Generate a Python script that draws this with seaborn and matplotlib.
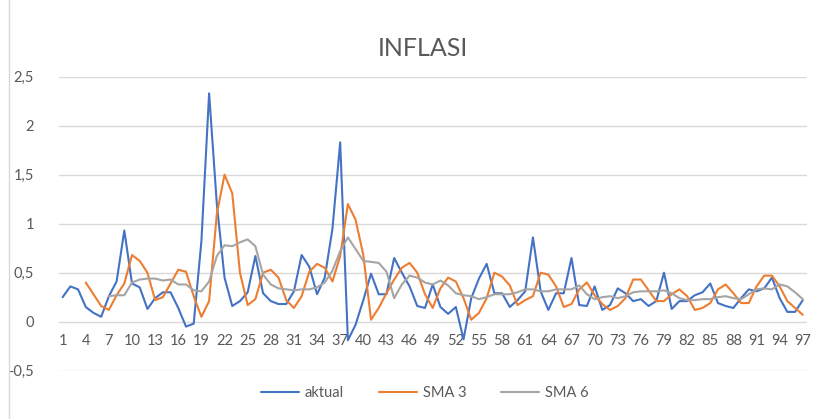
import numpy as np
import pandas as pd
import matplotlib
matplotlib.use("Agg")
import matplotlib.pyplot as plt
import seaborn as sns
from matplotlib.lines import Line2D

periods = list(range(1, 98))

aktual = [0.25, 0.36, 0.33, 0.15, 0.09, 0.05, 0.26, 0.41, 0.93, 0.39,
          0.35, 0.13, 0.24, 0.30, 0.30, 0.14, -0.05, -0.02, 0.82, 2.33,
          1.20, 0.45, 0.16, 0.21, 0.30, 0.67, 0.29, 0.21, 0.18, 0.18,
          0.31, 0.68, 0.56, 0.28, 0.45, 0.95, 1.83, -0.19, -0.03, 0.22,
          0.49, 0.28, 0.28, 0.65, 0.50, 0.36, 0.16, 0.14, 0.38, 0.15,
          0.08, 0.15, -0.18, 0.24, 0.44, 0.59, 0.29, 0.29, 0.15, 0.22,
          0.31, 0.86, 0.31, 0.12, 0.29, 0.29, 0.65, 0.17, 0.16, 0.36,
          0.12, 0.17, 0.34, 0.29, 0.21, 0.23, 0.16, 0.21, 0.50, 0.13,
          0.21, 0.21, 0.27, 0.30, 0.39, 0.19, 0.16, 0.14, 0.24, 0.33,
          0.31, 0.34, 0.45, 0.24, 0.10, 0.10, 0.22]

sma3 = [None, None, None, 0.40, 0.28, 0.16, 0.12, 0.27, 0.39, 0.68,
        0.62, 0.50, 0.22, 0.25, 0.39, 0.53, 0.51, 0.26, 0.05, 0.21,
        1.10, 1.50, 1.31, 0.50, 0.17, 0.23, 0.50, 0.53, 0.45, 0.22,
        0.14, 0.26, 0.51, 0.59, 0.55, 0.41, 0.67, 1.20, 1.04, 0.68,
        0.02, 0.14, 0.29, 0.43, 0.55, 0.60, 0.50, 0.28, 0.14, 0.34,
        0.45, 0.41, 0.24, 0.02, 0.09, 0.24, 0.50, 0.46, 0.37, 0.17,
        0.22, 0.26, 0.50, 0.48, 0.36, 0.15, 0.18, 0.33, 0.40, 0.27,
        0.18, 0.12, 0.16, 0.24, 0.43, 0.43, 0.32, 0.21, 0.21, 0.28,
        0.33, 0.26, 0.12, 0.14, 0.19, 0.33, 0.38, 0.29, 0.19, 0.19,
        0.36, 0.47, 0.47, 0.36, 0.21, 0.14, 0.07]

sma6 = [None, None, None, None, None, None, 0.26, 0.27, 0.27, 0.40,
        0.43, 0.44, 0.44, 0.42, 0.43, 0.38, 0.38, 0.32, 0.31, 0.41,
        0.67, 0.78, 0.77, 0.81, 0.84, 0.77, 0.48, 0.38, 0.34, 0.33,
        0.32, 0.33, 0.33, 0.35, 0.40, 0.52, 0.72, 0.86, 0.74, 0.62,
        0.61, 0.60, 0.51, 0.24, 0.38, 0.47, 0.45, 0.40, 0.38, 0.42,
        0.37, 0.29, 0.27, 0.26, 0.23, 0.25, 0.28, 0.28, 0.28, 0.30,
        0.33, 0.33, 0.31, 0.31, 0.33, 0.33, 0.33, 0.37, 0.28, 0.23,
        0.25, 0.26, 0.24, 0.26, 0.30, 0.31, 0.31, 0.31, 0.32, 0.29,
        0.24, 0.22, 0.22, 0.23, 0.23, 0.25, 0.26, 0.24, 0.23, 0.28,
        0.33, 0.34, 0.33, 0.38, 0.36, 0.30, 0.23]

series_names = ["aktual", "SMA 3", "SMA 6"]
colors = ["#4472C4", "#ED7D31", "#A5A5A5"]
y_ticks = [-0.5, 0, 0.5, 1, 1.5, 2, 2.5]
x_ticks = list(range(1, 98, 3))
title = "INFLASI"

rows = []
for name, vals in zip(series_names, [aktual, sma3, sma6]):
    for p, v in zip(periods, vals):
        if v is not None:
            rows.append({"periode": p, "nilai": v, "seri": name})
df = pd.DataFrame(rows)

sns.set_style("white")
plt.rcParams["font.family"] = ["Lato", "DejaVu Sans"]

fig = plt.figure(figsize=(8.22, 4.19), dpi=100)
ax = fig.add_axes([0.0715, 0.1153, 0.9098, 0.7017])

sns.lineplot(data=df, x="periode", y="nilai", hue="seri",
             hue_order=series_names, palette=colors, linewidth=1.5,
             ax=ax, legend=False, sort=True, estimator=None)

ax.set_xlim(0.5, 97.5)
ax.set_ylim(-0.5, 2.5)
ax.set_yticks(y_ticks)
ax.set_yticklabels([("%g" % t).replace(".", ",") for t in y_ticks])
ax.set_xticks(x_ticks)
ax.set_xticklabels([str(t) for t in x_ticks])
ax.yaxis.grid(True, color="#D9D9D9", linewidth=1.0)
ax.xaxis.grid(False)
ax.set_axisbelow(True)
for s in ["top", "right", "left"]:
    ax.spines[s].set_visible(False)
ax.spines["bottom"].set_position(("data", 0))
ax.spines["bottom"].set_visible(False)
ax.tick_params(axis="both", length=0, colors="#595959", labelsize=10.5)
ax.tick_params(axis="x", pad=9)
ax.tick_params(axis="y", pad=18)
ax.set_xlabel("")
ax.set_ylabel("")

fig.text(0.514, 0.885, title, ha="center", va="center",
         fontsize=18, color="#595959")

handles = [Line2D([0], [0], color=c, linewidth=1.5) for c in colors]
fig.legend(handles, series_names, loc="center", bbox_to_anchor=(0.517, 0.062),
           ncol=3, frameon=False, fontsize=10.5, labelcolor="#595959",
           handlelength=2.6, columnspacing=2.4, handletextpad=0.4)

fig.add_artist(Line2D([9 / 822, 9 / 822], [0, 1], color="#D9D9D9",
                      linewidth=1.0, transform=fig.transFigure))

fig.savefig("out.png", dpi=100, facecolor="white")
